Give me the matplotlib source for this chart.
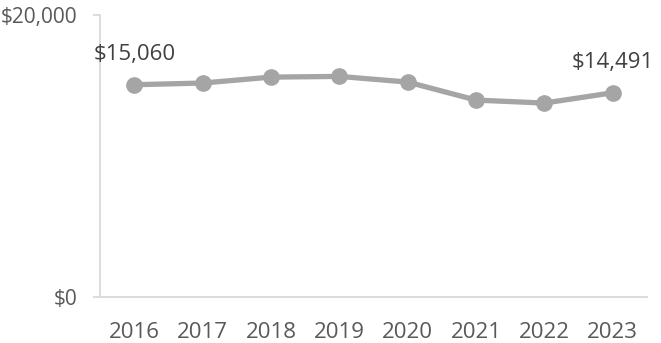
import matplotlib.pyplot as plt

years = ['2016', '2017', '2018', '2019', '2020', '2021', '2022', '2023']
spend = [15060, 15180, 15600, 15650, 15250, 13970, 13760, 14491]
yticks = [0, 20000]
ytick_labels = ['$0', '$20,000']

plt.rcParams['font.family'] = ['Open Sans', 'DejaVu Sans']

fig = plt.figure(figsize=(6.61, 3.43), dpi=100)
ax = fig.add_axes([0.1513, 0.134, 0.8275, 0.822])

x = range(len(years))
ax.plot(x, spend, color='#A5A5A5', lw=3.8, marker='o', ms=11, solid_capstyle='round')

# label first and last points with their values
for i in (0, len(years) - 1):
    ax.annotate('${:,}'.format(spend[i]), (i, spend[i]), xytext=(0, 22),
                textcoords='offset points', ha='center', va='center',
                fontsize=16, color='#404040')

ax.set_xlim(-0.5, len(years) - 0.5)
ax.set_ylim(0, 20000)
ax.set_xticks(list(x))
ax.set_xticklabels(years)
ax.set_yticks(yticks)
ax.set_yticklabels(ytick_labels)

for side in ('top', 'right'):
    ax.spines[side].set_visible(False)
for side in ('left', 'bottom'):
    ax.spines[side].set_color('#D9D9D9')
    ax.spines[side].set_linewidth(1.3)

ax.tick_params(axis='x', length=0, pad=18, labelsize=16, labelcolor='#595959')
ax.tick_params(axis='y', length=5, width=1.3, color='#D9D9D9', pad=11,
               labelsize=15, labelcolor='#595959')
for lbl in ax.get_yticklabels():
    lbl.set_horizontalalignment('right')

fig.savefig('out.png', dpi=100)
